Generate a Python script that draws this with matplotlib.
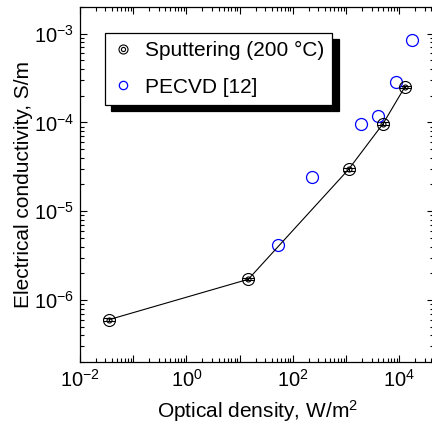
import matplotlib
matplotlib.use("Agg")
import matplotlib.pyplot as plt
from matplotlib.lines import Line2D
from matplotlib.legend_handler import HandlerTuple
from matplotlib.ticker import FixedLocator, LogLocator, NullFormatter

plt.rcParams['font.family'] = ['Liberation Sans', 'DejaVu Sans']
plt.rcParams['mathtext.fontset'] = 'custom'
plt.rcParams['mathtext.rm'] = 'Liberation Sans'
plt.rcParams['mathtext.it'] = 'Liberation Sans:italic'
plt.rcParams['mathtext.bf'] = 'Liberation Sans:bold'

# sputtered films, 200 C
sput_x = [0.035, 14.5, 1110, 4940, 12600]
sput_y = [6.0e-7, 1.71e-6, 2.96e-5, 9.7e-5, 2.5e-4]
sput_err = [2.0e-8, 5.0e-8, 9.0e-7, 3.0e-6, 8.0e-6]

# PECVD reference data [12]
pecvd_x = [53, 225, 1900, 3980, 8700, 17200]
pecvd_y = [4.15e-6, 2.43e-5, 9.5e-5, 1.18e-4, 2.84e-4, 8.5e-4]

xdecades = list(range(-2, 5))
ydecades = list(range(-6, -2))

fig = plt.figure(figsize=(4.32, 4.24), dpi=100)
ax = fig.add_axes([80 / 432, 62 / 424, 354 / 432, 355 / 424])
ax.set_xscale('log')
ax.set_yscale('log')

ax.errorbar(sput_x, sput_y, yerr=sput_err, color='k', lw=0.8,
            marker='o', ms=8.6, mfc='none', mec='k', mew=0.8,
            ecolor='k', elinewidth=0.8, capsize=4.0, capthick=0.8)
ax.plot(sput_x, sput_y, ls='none', marker='o', ms=3.6, mfc='none',
        mec='k', mew=0.8)
ax.plot(pecvd_x, pecvd_y, ls='none', marker='o', ms=8.6, mfc='none',
        mec='#0000ff', mew=0.9)

ax.set_xlim(1e-2, 10 ** 4.65)
ax.set_ylim(2e-7, 2e-3)

ax.xaxis.set_major_locator(FixedLocator([10.0 ** d for d in xdecades]))
ax.set_xticklabels(['$10^{%d}$' % d if d % 2 == 0 else '' for d in xdecades])
ax.yaxis.set_major_locator(FixedLocator([10.0 ** d for d in ydecades]))
ax.set_yticklabels(['$10^{%d}$' % d for d in ydecades])
for axis in (ax.xaxis, ax.yaxis):
    axis.set_minor_locator(LogLocator(base=10, subs=range(2, 10), numticks=20))
    axis.set_minor_formatter(NullFormatter())

ax.tick_params(which='both', direction='in', top=True, right=True,
               labelsize=14.5, width=0.8)
ax.tick_params(which='major', length=5, pad=4)
ax.tick_params(axis='x', which='major', pad=5)
ax.tick_params(which='minor', length=3)
for sp in ax.spines.values():
    sp.set_linewidth(0.9)

ax.set_xlabel('Optical density, W/m$^2$', fontsize=15, labelpad=5)
ax.set_ylabel('Electrical conductivity, S/m', fontsize=15, labelpad=0.5)

h_sput = (Line2D([], [], ls='none', marker='o', ms=6.5, mfc='none', mec='k', mew=0.8),
          Line2D([], [], ls='none', marker='o', ms=3.0, mfc='none', mec='k', mew=0.8))
h_pecvd = Line2D([], [], ls='none', marker='o', ms=6.0, mfc='none', mec='#0000ff', mew=0.9)
leg = ax.legend([h_sput, h_pecvd], ['Sputtering (200 \u00b0C)', 'PECVD [12]'],
                handler_map={tuple: HandlerTuple(ndivide=1)},
                loc='upper left', bbox_to_anchor=(105 / 432, 1 - 33 / 424),
                bbox_transform=fig.transFigure, borderaxespad=0,
                fontsize=15, fancybox=False, framealpha=1, edgecolor='k',
                handlelength=1.0, handletextpad=0.55, labelspacing=0.85,
                borderpad=0.38,
                shadow={'ox': 4.5, 'oy': -4.5, 'color': 'k', 'alpha': 1})
leg.get_frame().set_linewidth(0.9)

fig.savefig('out.png', dpi=100)
